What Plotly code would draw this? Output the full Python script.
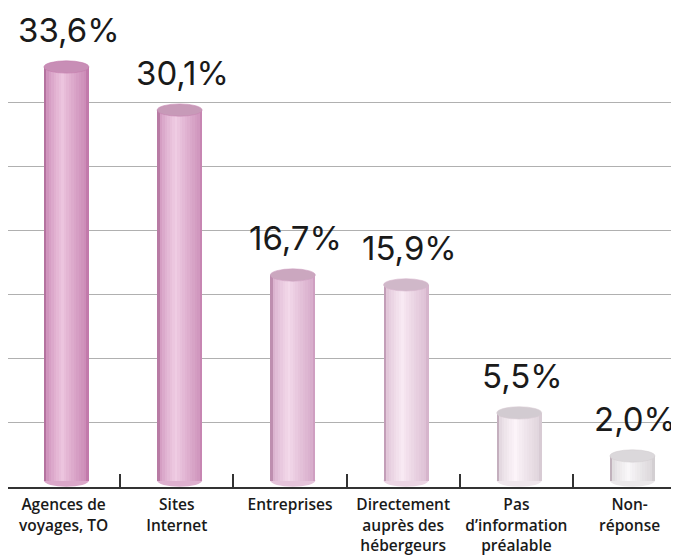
import plotly.graph_objects as go

# ---- data ----
categories = ["Agences de<br>voyages, TO", "Sites<br>Internet", "Entreprises",
              "Directement<br>auprès des<br>hébergeurs", "Pas<br>d’information<br>préalable",
              "Non-<br>réponse"]
values = [33.6, 30.1, 16.7, 15.9, 5.5, 2.0]
value_labels = ["33,6%", "30,1%", "16,7%", "15,9%", "5,5%", "2,0%"]
grid_levels = [4.7, 9.9, 15.1, 20.3, 25.5, 30.7]

# ---- styles ----
edge_colors = ["#c27aab", "#c786b2", "#cf9fc1", "#d6b5cc", "#d8cbd4", "#d3cfd2"]
high_colors = ["#ecc4de", "#efcce3", "#f3d9ea", "#f8e9f3", "#fcf4f9", "#f9f7f9"]
top_colors = ["#c88eb6", "#c79ab8", "#cba7bf", "#d0b8c9", "#d2cbd1", "#dbd8db"]
bottom_colors = ["#dba7c9", "#deb0cf", "#e6c4db", "#ecd5e4", "#efe6ec", "#ebe8ea"]

BAR_W = 0.397
SHIFT = 0.025
N_STRIPS = 18
E = 0.5  # ellipse vertical semi-axis (data units)


def hex2rgb(h):
    h = h.lstrip("#")
    return tuple(int(h[i:i + 2], 16) for i in (0, 2, 4))


def mix(c1, c2, t):
    a, b = hex2rgb(c1), hex2rgb(c2)
    return "rgb(%d,%d,%d)" % tuple(round(a[i] + (b[i] - a[i]) * t) for i in range(3))


def profile(t):
    # brightness across the cylinder: dark left edge, highlight ~40%, medium right
    if t < 0.04:
        return -0.25
    if t < 0.42:
        return 0.1 + 0.9 * ((t - 0.04) / 0.38) ** 0.6
    if t > 0.96:
        return 0.0
    return 1.0 - 0.8 * ((t - 0.42) / 0.54) ** 0.9


fig = go.Figure()
sw = BAR_W / N_STRIPS
for k in range(N_STRIPS):
    t = (k + 0.5) / N_STRIPS
    b = profile(t)
    cols = []
    for j in range(len(values)):
        if b < 0:
            cols.append(mix(edge_colors[j], "#8a5a7a", -b))
        else:
            cols.append(mix(edge_colors[j], high_colors[j], b))
    fig.add_trace(go.Bar(
        x=categories, y=values, width=sw * 1.08, offset=SHIFT - BAR_W / 2 + k * sw,
        marker=dict(color=cols, line=dict(width=0)), hoverinfo="skip", showlegend=False,
    ))

shapes = []
annotations = []
for j, v in enumerate(values):
    cx = j + SHIFT
    shapes.append(dict(type="circle", xref="x", yref="y", layer="below",
                       x0=cx - BAR_W / 2, x1=cx + BAR_W / 2, y0=-E, y1=E,
                       fillcolor=bottom_colors[j], line=dict(width=0)))
    shapes.append(dict(type="circle", xref="x", yref="y", layer="above",
                       x0=cx - BAR_W / 2, x1=cx + BAR_W / 2, y0=v - E, y1=v + E,
                       fillcolor=top_colors[j], line=dict(width=0.6, color=edge_colors[j])))
    annotations.append(dict(x=cx, y=v, xref="x", yref="y", text=value_labels[j],
                            showarrow=False, yanchor="middle", yshift=37, xshift=3,
                            font=dict(family="Inter, Lato, sans-serif", size=33, color="#1a1a1a")))

fig.update_layout(
    width=679, height=555,
    margin=dict(l=0, r=0, t=0, b=76),
    paper_bgcolor="white", plot_bgcolor="white",
    barmode="overlay", bargap=0,
    shapes=shapes, annotations=annotations,
    xaxis=dict(type="category", range=[-0.491, 5.507], tickson="boundaries",
               ticks="inside", ticklen=13, tickwidth=1.5, tickcolor="#333",
               showline=True, linecolor="#333", linewidth=1.5, showgrid=False,
               ticklabelstandoff=3, tickangle=0, automargin=False,
               tickfont=dict(family="Open Sans, Roboto, sans-serif", size=15.5, weight=600,
                             color="#1a1a1a"),
               fixedrange=True),
    yaxis=dict(range=[-0.52, 38.39], tickvals=grid_levels, showticklabels=False,
               showgrid=True, gridcolor="#b0b0b0", gridwidth=1, zeroline=False,
               automargin=False, fixedrange=True),
)

fig.write_html("out.html")
